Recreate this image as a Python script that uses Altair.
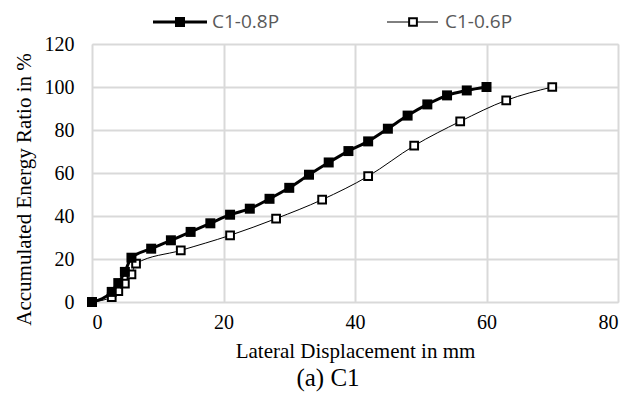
import altair as alt
import pandas as pd

# Accumulated energy ratio vs lateral displacement, column C1
disp_08 = [0, 3, 4, 5, 6, 9, 12, 15, 18, 21, 24, 27, 30, 33, 36, 39, 42, 45, 48, 51, 54, 57, 60]
ratio_08 = [0, 4.7, 8.8, 14, 20.6, 24.8, 28.7, 32.6, 36.6, 40.6, 43.4, 48.0, 53.1, 59.2,
            64.9, 70.2, 74.7, 80.6, 86.7, 91.9, 96.1, 98.4, 100]

disp_06 = [0, 3, 4, 5, 6, 6.7, 13.5, 21, 28, 35, 42, 49, 56, 63, 70]
ratio_06 = [0, 2.3, 5, 8.6, 12.9, 17.9, 24, 31, 38.8, 47.6, 58.5, 72.7, 84, 93.8, 100]

series_names = ["C1-0.8P", "C1-0.6P"]
x_ticks = [0, 20, 40, 60, 80]
y_ticks = [0, 20, 40, 60, 80, 100, 120]

df08 = pd.DataFrame({"x": disp_08, "y": ratio_08})
df06 = pd.DataFrame({"x": disp_06, "y": ratio_06})

serif = "Liberation Serif"
W, H = 526, 258

xs = alt.Scale(domain=[0, 80], nice=False)
ys = alt.Scale(domain=[0, 120], nice=False)

x_enc = alt.X("x:Q", scale=xs, axis=alt.Axis(
    values=x_ticks, title="Lateral Displacement in mm", grid=True, domain=False,
    ticks=False, labelFont=serif, labelFontSize=20, labelColor="black",
    labelPadding=10, titleFont=serif, titleFontSize=21, titleFontWeight="normal",
    titleColor="black", titlePadding=8, titleX=W / 2,
    gridColor="#d9d9d9", gridWidth=2))
y_enc = alt.Y("y:Q", scale=ys, axis=alt.Axis(
    values=y_ticks, title="Accumulated Energy Ratio in %", grid=True, domain=False,
    ticks=False, labelFont=serif, labelFontSize=20, labelColor="black",
    labelPadding=18, titleFont=serif, titleFontSize=21, titleFontWeight="normal",
    titleColor="black", titlePadding=10, titleY=145,
    gridColor="#d9d9d9", gridWidth=2))

line08 = alt.Chart(df08).mark_line(color="black", strokeWidth=3, interpolate="monotone").encode(x=x_enc, y=y_enc)
pts08 = alt.Chart(df08).mark_point(shape="square", size=100, filled=True, color="black", opacity=1).encode(x="x:Q", y="y:Q")

line06 = alt.Chart(df06).mark_line(color="black", strokeWidth=1, interpolate="monotone").encode(x="x:Q", y="y:Q")
pts06 = alt.Chart(df06).mark_point(shape="square", size=60, filled=True, fill="white",
                                   stroke="black", strokeWidth=2, opacity=1).encode(x="x:Q", y="y:Q")

# Legend drawn above the plot area
leg_y = -22
leg_font = "Open Sans"
one = pd.DataFrame({"a": [0]})
legend = [
    alt.Chart(one).mark_rule(color="black", strokeWidth=3).encode(
        x=alt.value(61), x2=alt.value(115), y=alt.value(leg_y)),
    alt.Chart(one).mark_point(shape="square", size=100, filled=True, color="black", opacity=1).encode(
        x=alt.value(88), y=alt.value(leg_y)),
    alt.Chart(one).mark_text(text=series_names[0], align="left", baseline="middle",
        font=leg_font, fontSize=19, color="#595959").encode(x=alt.value(120), y=alt.value(leg_y)),
    alt.Chart(one).mark_rule(color="black", strokeWidth=1).encode(
        x=alt.value(295), x2=alt.value(346), y=alt.value(leg_y)),
    alt.Chart(one).mark_point(shape="square", size=60, filled=True, fill="white",
        stroke="black", strokeWidth=2, opacity=1).encode(x=alt.value(321), y=alt.value(leg_y)),
    alt.Chart(one).mark_text(text=series_names[1], align="left", baseline="middle",
        font=leg_font, fontSize=19, color="#595959").encode(x=alt.value(353), y=alt.value(leg_y)),
]

chart = alt.layer(line06, pts06, line08, pts08, *legend).properties(
    width=W, height=H,
    title=alt.TitleParams("(a) C1", orient="bottom", font=serif, fontSize=25,
                          fontWeight="normal", color="black", offset=5, dx=-27),
    autosize=alt.AutoSizeParams(type="none"),
    padding={"left": 92, "top": 44, "right": 25, "bottom": 97},
).configure_view(stroke=None).configure(background="white")

chart.save("out.html", embed_options={"renderer": "svg", "actions": False})
